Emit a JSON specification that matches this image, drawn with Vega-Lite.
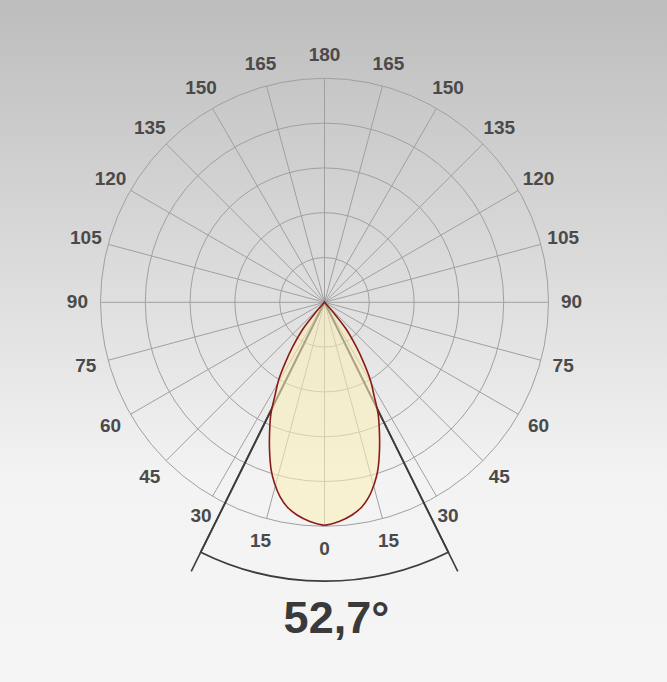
{
  "$schema": "https://vega.github.io/schema/vega-lite/v6.json",
  "width": 667,
  "height": 682,
  "padding": 0,
  "autosize": {"type": "none"},
  "view": {
    "stroke": null,
    "fill": {"gradient": "linear", "x1": 0, "y1": 0, "x2": 0, "y2": 1,
      "stops": [{"offset": 0, "color": "#bdbdbd"}, {"offset": 0.7, "color": "#f3f3f3"}, {"offset": 1, "color": "#f5f5f5"}]}
  },
  "datasets": {
    "circles": [
      {"r": 20, "t1": -180, "t2": 180},
      {"r": 40, "t1": -180, "t2": 180},
      {"r": 60, "t1": -180, "t2": 180},
      {"r": 80, "t1": -180, "t2": 180},
      {"r": 100, "t1": -180, "t2": 180}
    ],
    "spokes": [
      {"xa": 0, "ya": -100, "xb": 0, "yb": 100},
      {"xa": 25.88, "ya": -96.59, "xb": -25.88, "yb": 96.59},
      {"xa": 50, "ya": -86.6, "xb": -50, "yb": 86.6},
      {"xa": 70.71, "ya": -70.71, "xb": -70.71, "yb": 70.71},
      {"xa": 86.6, "ya": -50, "xb": -86.6, "yb": 50},
      {"xa": 96.59, "ya": -25.88, "xb": -96.59, "yb": 25.88},
      {"xa": 100, "ya": 0, "xb": -100, "yb": 0},
      {"xa": 96.59, "ya": 25.88, "xb": -96.59, "yb": -25.88},
      {"xa": 86.6, "ya": 50, "xb": -86.6, "yb": -50},
      {"xa": 70.71, "ya": 70.71, "xb": -70.71, "yb": -70.71},
      {"xa": 50, "ya": 86.6, "xb": -50, "yb": -86.6},
      {"xa": 25.88, "ya": 96.59, "xb": -25.88, "yb": -96.59}
    ],
    "beam": [
      {"xa": 0, "ya": 0, "xb": -59.5, "yb": -120.1},
      {"xa": 0, "ya": 0, "xb": 59.5, "yb": -120.1}
    ],
    "beamArc": [
      {"r": 124.5, "t1": -26.35, "t2": 26.35}
    ],
    "curve": [
      {"i": -16, "x": 0, "y": 0},
      {"i": -15, "x": -4.0, "y": -4.6},
      {"i": -14, "x": -9.4, "y": -11.6},
      {"i": -13, "x": -14.0, "y": -19.5},
      {"i": -12, "x": -17.3, "y": -26.5},
      {"i": -11, "x": -20.5, "y": -34.8},
      {"i": -10, "x": -22.2, "y": -42.0},
      {"i": -9, "x": -23.9, "y": -49.6},
      {"i": -8, "x": -24.5, "y": -57.5},
      {"i": -7, "x": -24.55, "y": -65.94},
      {"i": -6, "x": -23.8, "y": -74.9},
      {"i": -5, "x": -22.32, "y": -80.8},
      {"i": -4, "x": -19.87, "y": -86.79},
      {"i": -3, "x": -16.74, "y": -91.25},
      {"i": -2, "x": -12.28, "y": -94.96},
      {"i": -1, "x": -6.25, "y": -97.95},
      {"i": 0, "x": 0, "y": -99.5},
      {"i": 1, "x": 6.25, "y": -97.95},
      {"i": 2, "x": 12.28, "y": -94.96},
      {"i": 3, "x": 16.74, "y": -91.25},
      {"i": 4, "x": 19.87, "y": -86.79},
      {"i": 5, "x": 22.32, "y": -80.8},
      {"i": 6, "x": 23.8, "y": -74.9},
      {"i": 7, "x": 24.55, "y": -65.94},
      {"i": 8, "x": 24.5, "y": -57.5},
      {"i": 9, "x": 23.9, "y": -49.6},
      {"i": 10, "x": 22.2, "y": -42.0},
      {"i": 11, "x": 20.5, "y": -34.8},
      {"i": 12, "x": 17.3, "y": -26.5},
      {"i": 13, "x": 14.0, "y": -19.5},
      {"i": 14, "x": 9.4, "y": -11.6},
      {"i": 15, "x": 4.0, "y": -4.6},
      {"i": 16, "x": 0, "y": 0}
    ],
    "labels": [
      {"label": "0", "x": 0, "y": -110.3},
      {"label": "15", "x": 28.55, "y": -106.54},
      {"label": "30", "x": 55.15, "y": -95.52},
      {"label": "45", "x": 78.0, "y": -78.0},
      {"label": "60", "x": 95.52, "y": -55.15},
      {"label": "75", "x": 106.54, "y": -28.55},
      {"label": "90", "x": 110.3, "y": 0},
      {"label": "105", "x": 106.54, "y": 28.55},
      {"label": "120", "x": 95.52, "y": 55.15},
      {"label": "135", "x": 78.0, "y": 78.0},
      {"label": "150", "x": 55.15, "y": 95.52},
      {"label": "165", "x": 28.55, "y": 106.54},
      {"label": "180", "x": 0, "y": 110.3},
      {"label": "15", "x": -28.55, "y": -106.54},
      {"label": "30", "x": -55.15, "y": -95.52},
      {"label": "45", "x": -78.0, "y": -78.0},
      {"label": "60", "x": -95.52, "y": -55.15},
      {"label": "75", "x": -106.54, "y": -28.55},
      {"label": "90", "x": -110.3, "y": 0},
      {"label": "105", "x": -106.54, "y": 28.55},
      {"label": "120", "x": -95.52, "y": 55.15},
      {"label": "135", "x": -78.0, "y": 78.0},
      {"label": "150", "x": -55.15, "y": 95.52},
      {"label": "165", "x": -28.55, "y": 106.54}
    ],
    "beamLabel": [
      {"label": "52,7°", "x": 5.31, "y": -147.6}
    ]
  },
  "layer": [
    {
      "data": {"name": "circles"},
      "mark": {"type": "arc", "filled": false, "stroke": "#a0a0a0", "strokeWidth": 1},
      "encoding": {
        "x": {"datum": 0, "type": "quantitative", "scale": {"domain": [-144.87, 152.9], "nice": false, "zero": false}, "axis": null},
        "y": {"datum": 0, "type": "quantitative", "scale": {"domain": [-169.51, 134.96], "nice": false, "zero": false}, "axis": null},
        "theta": {"field": "t1", "type": "quantitative", "stack": null, "scale": {"domain": [-180, 180], "range": [0, 6.283185307]}},
        "theta2": {"field": "t2"},
        "radius": {"field": "r", "type": "quantitative", "scale": {"type": "linear", "domain": [0, 100], "range": [0, 224], "zero": true}}
      }
    },
    {
      "data": {"name": "spokes"},
      "mark": {"type": "rule", "stroke": "#a0a0a0", "strokeWidth": 1},
      "encoding": {
        "x": {"field": "xa", "type": "quantitative", "scale": {"domain": [-144.87, 152.9], "nice": false, "zero": false}, "axis": null},
        "y": {"field": "ya", "type": "quantitative", "scale": {"domain": [-169.51, 134.96], "nice": false, "zero": false}, "axis": null},
        "x2": {"field": "xb"},
        "y2": {"field": "yb"}
      }
    },
    {
      "data": {"name": "beam"},
      "mark": {"type": "rule", "stroke": "#3d3d3d", "strokeWidth": 1.6},
      "encoding": {
        "x": {"field": "xa", "type": "quantitative", "scale": {"domain": [-144.87, 152.9], "nice": false, "zero": false}, "axis": null},
        "y": {"field": "ya", "type": "quantitative", "scale": {"domain": [-169.51, 134.96], "nice": false, "zero": false}, "axis": null},
        "x2": {"field": "xb"},
        "y2": {"field": "yb"}
      }
    },
    {
      "data": {"name": "beamArc"},
      "mark": {"type": "arc", "filled": false, "stroke": "#3d3d3d", "strokeWidth": 1.8},
      "encoding": {
        "x": {"datum": 0, "type": "quantitative", "scale": {"domain": [-144.87, 152.9], "nice": false, "zero": false}, "axis": null},
        "y": {"datum": 0, "type": "quantitative", "scale": {"domain": [-169.51, 134.96], "nice": false, "zero": false}, "axis": null},
        "theta": {"field": "t1", "type": "quantitative", "stack": null, "scale": {"domain": [-180, 180], "range": [0, 6.283185307]}},
        "theta2": {"field": "t2"},
        "radius": {"field": "r", "type": "quantitative", "scale": {"type": "linear", "domain": [0, 100], "range": [0, 224], "zero": true}}
      }
    },
    {
      "data": {"name": "curve"},
      "mark": {"type": "line", "interpolate": "catmull-rom", "fill": "#faf0b8", "fillOpacity": 0.58, "stroke": "#8b1a1a", "strokeWidth": 1.6},
      "encoding": {
        "x": {"field": "x", "type": "quantitative", "scale": {"domain": [-144.87, 152.9], "nice": false, "zero": false}, "axis": null},
        "y": {"field": "y", "type": "quantitative", "scale": {"domain": [-169.51, 134.96], "nice": false, "zero": false}, "axis": null},
        "order": {"field": "i", "type": "quantitative"}
      }
    },
    {
      "data": {"name": "labels"},
      "mark": {"type": "text", "font": "Liberation Sans", "fontWeight": "bold", "fontSize": 19, "fill": "#4a4a4a", "align": "center", "baseline": "middle"},
      "encoding": {
        "x": {"field": "x", "type": "quantitative", "scale": {"domain": [-144.87, 152.9], "nice": false, "zero": false}, "axis": null},
        "y": {"field": "y", "type": "quantitative", "scale": {"domain": [-169.51, 134.96], "nice": false, "zero": false}, "axis": null},
        "text": {"field": "label", "type": "nominal"}
      }
    },
    {
      "data": {"name": "beamLabel"},
      "mark": {"type": "text", "font": "Liberation Sans", "fontWeight": "bold", "fontSize": 45, "fill": "#3a3a3a", "align": "center", "baseline": "alphabetic"},
      "encoding": {
        "x": {"field": "x", "type": "quantitative", "scale": {"domain": [-144.87, 152.9], "nice": false, "zero": false}, "axis": null},
        "y": {"field": "y", "type": "quantitative", "scale": {"domain": [-169.51, 134.96], "nice": false, "zero": false}, "axis": null},
        "text": {"field": "label", "type": "nominal"}
      }
    }
  ]
}
